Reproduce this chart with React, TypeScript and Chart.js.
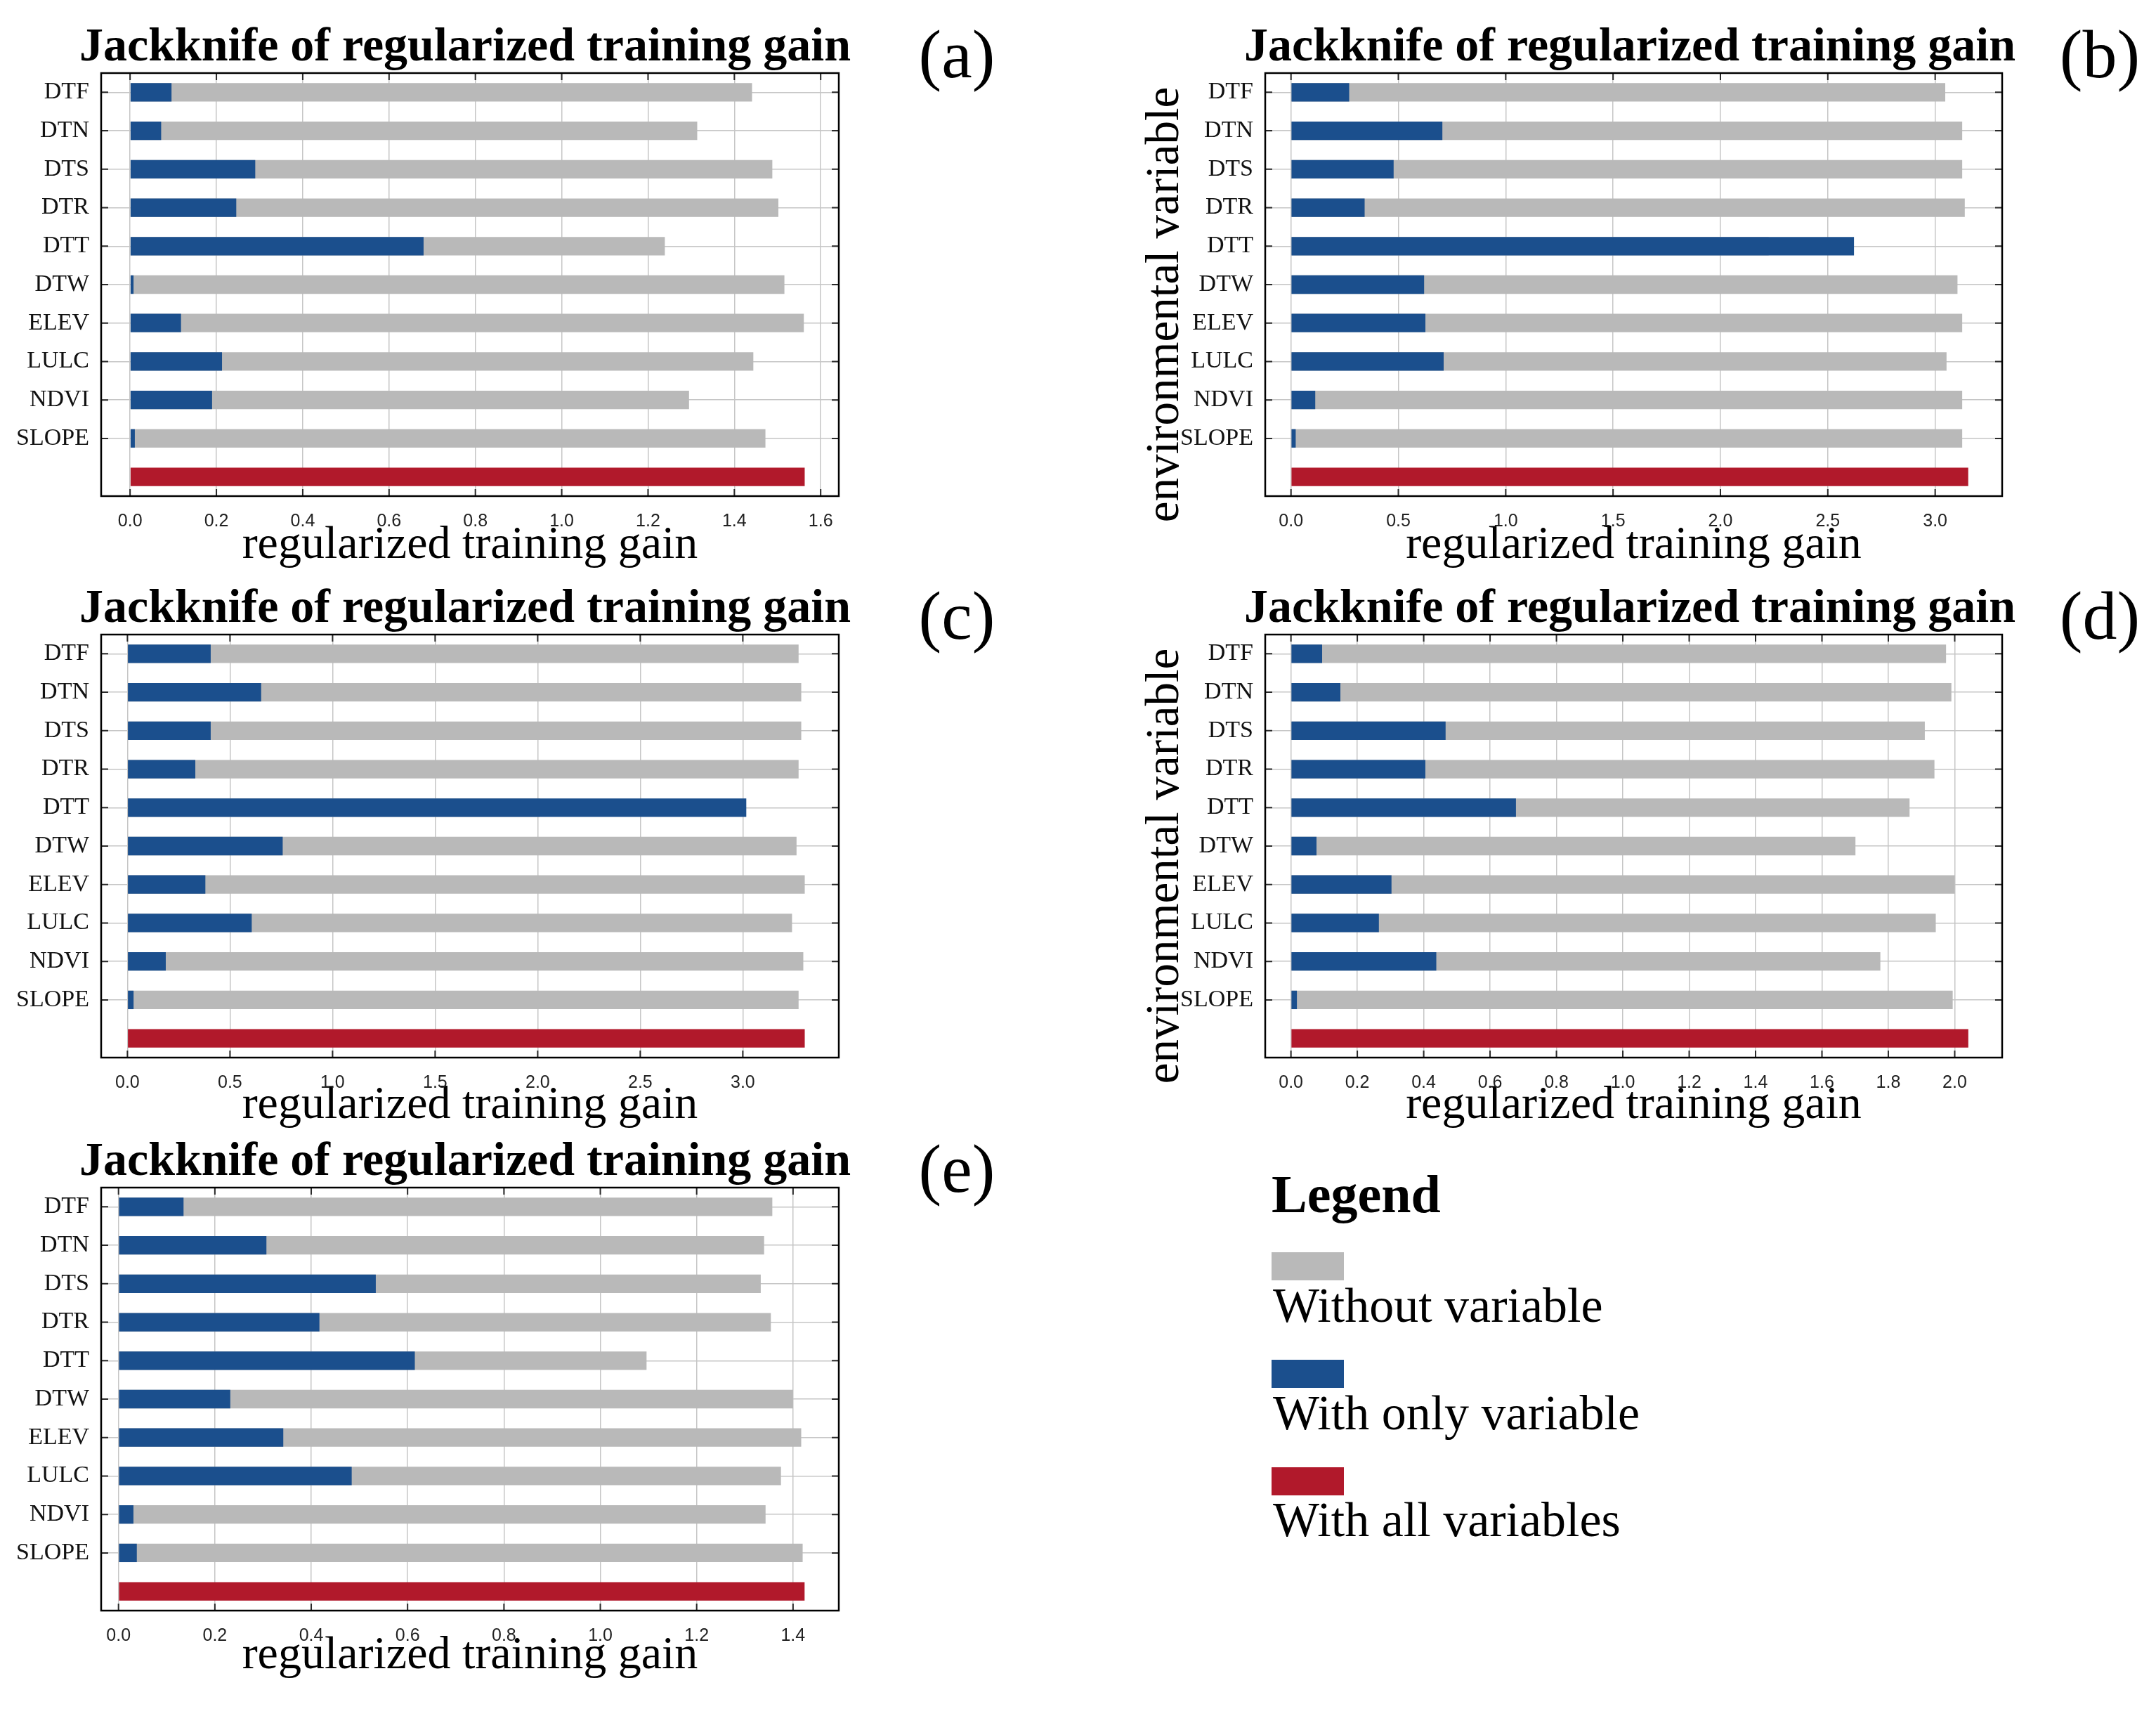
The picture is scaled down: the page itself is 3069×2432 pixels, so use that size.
import React, { useEffect, useRef } from 'react';
import { Chart, registerables } from 'chart.js';

Chart.register(...registerables);

// ---------- data ----------
const CATEGORIES = ['DTF', 'DTN', 'DTS', 'DTR', 'DTT', 'DTW', 'ELEV', 'LULC', 'NDVI', 'SLOPE'];

const A_WITHOUT = [1.441, 1.314, 1.488, 1.502, 1.239, 1.516, 1.561, 1.444, 1.295, 1.472];
const A_ONLY = [0.096, 0.072, 0.29, 0.246, 0.68, 0.008, 0.118, 0.213, 0.19, 0.011];
const A_ALL = 1.563;
const A_TICKS = [0, 0.2, 0.4, 0.6, 0.8, 1.0, 1.2, 1.4, 1.6];

const B_WITHOUT = [3.047, 3.126, 3.126, 3.138, 2.225, 3.104, 3.126, 3.053, 3.126, 3.126];
const B_ONLY = [0.271, 0.705, 0.478, 0.343, 2.622, 0.62, 0.626, 0.711, 0.113, 0.022];
const B_ALL = 3.154;
const B_TICKS = [0, 0.5, 1.0, 1.5, 2.0, 2.5, 3.0];

const C_WITHOUT = [3.272, 3.285, 3.285, 3.272, 2.011, 3.262, 3.302, 3.24, 3.295, 3.272];
const C_ONLY = [0.406, 0.652, 0.406, 0.331, 3.017, 0.757, 0.38, 0.606, 0.187, 0.03];
const C_ALL = 3.302;
const C_TICKS = [0, 0.5, 1.0, 1.5, 2.0, 2.5, 3.0];

const D_WITHOUT = [1.974, 1.99, 1.91, 1.939, 1.864, 1.701, 2.0, 1.943, 1.776, 1.994];
const D_ONLY = [0.094, 0.149, 0.466, 0.405, 0.678, 0.077, 0.303, 0.265, 0.438, 0.018];
const D_ALL = 2.041;
const D_TICKS = [0, 0.2, 0.4, 0.6, 0.8, 1.0, 1.2, 1.4, 1.6, 1.8, 2.0];

const E_WITHOUT = [1.357, 1.34, 1.333, 1.354, 1.096, 1.4, 1.417, 1.375, 1.343, 1.42];
const E_ONLY = [0.135, 0.307, 0.534, 0.417, 0.615, 0.232, 0.342, 0.484, 0.031, 0.038];
const E_ALL = 1.424;
const E_TICKS = [0, 0.2, 0.4, 0.6, 0.8, 1.0, 1.2, 1.4];

const TITLE = 'Jackknife of regularized training gain';
const X_TITLE = 'regularized training gain';
const Y_TITLE = 'environmental variable';
const LEGEND_TITLE = 'Legend';
const LEGEND_LABELS = ['Without variable', 'With only variable', 'With all variables'];

// ---------- styles / layout ----------
const GRAY = '#b9b9b9';
const BLUE = '#1b4f8d';
const RED = '#b1192b';
const SERIF = '"Liberation Serif", "Times New Roman", serif';
const SANS = '"Liberation Sans", Arial, sans-serif';

const COLS = [
  { boxX: 144, boxW: 1050, axisW: 140, titleCx: 662, letterCx: 1362, yTitleCx: 1654 },
  { boxX: 1801, boxW: 1049, axisW: 185, titleCx: 2320, letterCx: 2989, yTitleCx: 1654 },
];
const ROWS = [
  { top: 104, xAxisH: 110 },
  { top: 903, xAxisH: 108 },
  { top: 1690, xAxisH: 104 },
];
const BOX_H = 602;

type PanelDef = {
  letter: string;
  without: number[];
  only: number[];
  all: number;
  ticks: number[];
  min: number;
  max: number;
  col: number;
  row: number;
  yTitle: boolean;
};

const PANELS: PanelDef[] = [
  { letter: '(a)', without: A_WITHOUT, only: A_ONLY, all: A_ALL, ticks: A_TICKS, min: -0.067, max: 1.642, col: 0, row: 0, yTitle: false },
  { letter: '(b)', without: B_WITHOUT, only: B_ONLY, all: B_ALL, ticks: B_TICKS, min: -0.12, max: 3.312, col: 1, row: 0, yTitle: true },
  { letter: '(c)', without: C_WITHOUT, only: C_ONLY, all: C_ALL, ticks: C_TICKS, min: -0.128, max: 3.468, col: 0, row: 1, yTitle: false },
  { letter: '(d)', without: D_WITHOUT, only: D_ONLY, all: D_ALL, ticks: D_TICKS, min: -0.0775, max: 2.143, col: 1, row: 1, yTitle: true },
  { letter: '(e)', without: E_WITHOUT, only: E_ONLY, all: E_ALL, ticks: E_TICKS, min: -0.036, max: 1.495, col: 0, row: 2, yTitle: false },
];

const framePlugin = {
  id: 'frameAndInnerTicks',
  afterDraw(chart: any) {
    const { ctx, chartArea: a, scales } = chart;
    const xs = scales.x;
    const ys = scales.y;
    ctx.save();
    ctx.strokeStyle = '#2a2a2a';
    ctx.lineWidth = 2;
    ctx.beginPath();
    xs.ticks.forEach((t: any) => {
      const px = xs.getPixelForValue(t.value);
      ctx.moveTo(px, a.bottom);
      ctx.lineTo(px, a.bottom - 10);
      ctx.moveTo(px, a.top);
      ctx.lineTo(px, a.top + 10);
    });
    ys.ticks.forEach((t: any, i: number) => {
      if (!ys.getLabelForValue(t.value)) return;
      const py = ys.getPixelForTick(i);
      ctx.moveTo(a.left, py);
      ctx.lineTo(a.left + 10, py);
      ctx.moveTo(a.right, py);
      ctx.lineTo(a.right - 10, py);
    });
    ctx.stroke();
    ctx.strokeStyle = '#000';
    ctx.lineWidth = 2.5;
    ctx.strokeRect(a.left, a.top, a.right - a.left, a.bottom - a.top);
    ctx.restore();
  },
};

function Panel({ p }: { p: PanelDef }) {
  const ref = useRef<HTMLCanvasElement>(null);
  const col = COLS[p.col];
  const row = ROWS[p.row];
  const width = col.axisW + col.boxW + 4;
  const height = 4 + BOX_H + row.xAxisH;

  useEffect(() => {
    if (!ref.current) return;
    const labels = [...CATEGORIES, ''];
    const chart = new Chart(ref.current, {
      type: 'bar',
      data: {
        labels,
        datasets: [
          {
            label: LEGEND_LABELS[2],
            data: [...CATEGORIES.map(() => null), p.all],
            backgroundColor: RED,
            order: 0,
          },
          {
            label: LEGEND_LABELS[1],
            data: [...p.only, null],
            backgroundColor: BLUE,
            order: 1,
          },
          {
            label: LEGEND_LABELS[0],
            data: [...p.without, null],
            backgroundColor: GRAY,
            order: 2,
          },
        ] as any,
      },
      options: {
        indexAxis: 'y',
        responsive: false,
        animation: false,
        devicePixelRatio: 1,
        layout: { padding: { top: 4, right: 4, left: 0, bottom: 0 } },
        datasets: {
          bar: {
            grouped: false,
            barPercentage: 0.48,
            categoryPercentage: 1,
            borderWidth: 0,
          },
        },
        plugins: {
          legend: { display: false },
          tooltip: { enabled: false },
          title: { display: false },
        },
        scales: {
          x: {
            type: 'linear',
            min: p.min,
            max: p.max,
            afterBuildTicks: (s: any) => {
              s.ticks = p.ticks.map((v) => ({ value: v }));
            },
            afterFit: (s: any) => {
              s.height = row.xAxisH;
              s.paddingLeft = 0;
              s.paddingRight = 0;
            },
            ticks: {
              callback: (v: any) => Number(v).toFixed(1),
              font: { family: SANS, size: 25 },
              color: '#222',
              padding: 21,
              maxRotation: 0,
              autoSkip: false,
            },
            grid: { drawTicks: false, color: '#c6c6c6', lineWidth: 1.5 },
            border: { display: false },
            title: {
              display: true,
              text: X_TITLE,
              font: { family: SERIF, size: 66 },
              color: '#000',
              padding: 0,
            },
          },
          y: {
            type: 'category',
            offset: true,
            afterFit: (s: any) => {
              s.width = col.axisW;
              s.paddingTop = 0;
              s.paddingBottom = 0;
            },
            ticks: {
              font: { family: SERIF, size: 34 },
              color: '#111',
              padding: 17,
              autoSkip: false,
            },
            grid: {
              offset: false,
              drawTicks: false,
              lineWidth: 1.5,
              color: (c: any) => (c.index === CATEGORIES.length ? 'rgba(0,0,0,0)' : '#c6c6c6'),
            },
            border: { display: false },
          },
        },
      } as any,
      plugins: [framePlugin],
    });
    return () => chart.destroy();
  }, []);

  const titleSize = 68;
  const letterSize = 98;
  const yTitleSize = 67;
  const titleBaseline = row.top - 18;
  const letterBaseline = row.top + 6;
  const yTitleCy = row.top + BOX_H / 2 + 28;

  return (
    <>
      <div
        style={{
          position: 'absolute',
          left: col.titleCx - 800,
          width: 1600,
          top: titleBaseline - 0.8375 * titleSize,
          textAlign: 'center',
          fontFamily: SERIF,
          fontWeight: 'bold',
          fontSize: titleSize,
          lineHeight: `${titleSize}px`,
          color: '#000',
          whiteSpace: 'nowrap',
        }}
      >
        {TITLE}
      </div>
      <div
        style={{
          position: 'absolute',
          left: col.letterCx - 150,
          width: 300,
          top: letterBaseline - 0.8375 * letterSize,
          textAlign: 'center',
          fontFamily: SERIF,
          fontSize: letterSize,
          lineHeight: `${letterSize}px`,
          color: '#000',
        }}
      >
        {p.letter}
      </div>
      {p.yTitle && (
        <div
          style={{
            position: 'absolute',
            left: col.yTitleCx - 400,
            top: yTitleCy - yTitleSize / 2,
            width: 800,
            height: yTitleSize,
            textAlign: 'center',
            fontFamily: SERIF,
            fontSize: yTitleSize,
            lineHeight: `${yTitleSize}px`,
            color: '#000',
            whiteSpace: 'nowrap',
            transform: 'rotate(-90deg)',
            transformOrigin: '50% 50%',
          }}
        >
          {Y_TITLE}
        </div>
      )}
      <canvas
        ref={ref}
        width={width}
        height={height}
        style={{
          position: 'absolute',
          left: col.boxX - col.axisW,
          top: row.top - 4,
          width,
          height,
        }}
      />
    </>
  );
}

const LEGEND_X = 1810;
const LEGEND_SWATCH_TOPS = [1782, 1935, 2088];
const LEGEND_TEXT_BASELINES = [1882, 2035, 2187];
const LEGEND_COLORS = [GRAY, BLUE, RED];

function Legend() {
  const ls = 70;
  const ts = 76;
  return (
    <>
      <div
        style={{
          position: 'absolute',
          left: LEGEND_X,
          top: 1725 - 0.8375 * ts,
          fontFamily: SERIF,
          fontWeight: 'bold',
          fontSize: ts,
          lineHeight: `${ts}px`,
          color: '#000',
          whiteSpace: 'nowrap',
        }}
      >
        {LEGEND_TITLE}
      </div>
      {LEGEND_LABELS.map((lab, i) => (
        <React.Fragment key={lab}>
          <div
            style={{
              position: 'absolute',
              left: LEGEND_X,
              top: LEGEND_SWATCH_TOPS[i],
              width: 103,
              height: 40,
              background: LEGEND_COLORS[i],
            }}
          />
          <div
            style={{
              position: 'absolute',
              left: LEGEND_X + 2,
              top: LEGEND_TEXT_BASELINES[i] - 0.8375 * ls,
              fontFamily: SERIF,
              fontSize: ls,
              lineHeight: `${ls}px`,
              color: '#000',
              whiteSpace: 'nowrap',
            }}
          >
            {lab}
          </div>
        </React.Fragment>
      ))}
    </>
  );
}

export default function App() {
  return (
    <div
      style={{
        position: 'absolute',
        left: 0,
        top: 0,
        width: 3069,
        height: 2432,
        background: '#fff',
        overflow: 'hidden',
      }}
    >
      {PANELS.map((p) => (
        <Panel key={p.letter} p={p} />
      ))}
      <Legend />
    </div>
  );
}
